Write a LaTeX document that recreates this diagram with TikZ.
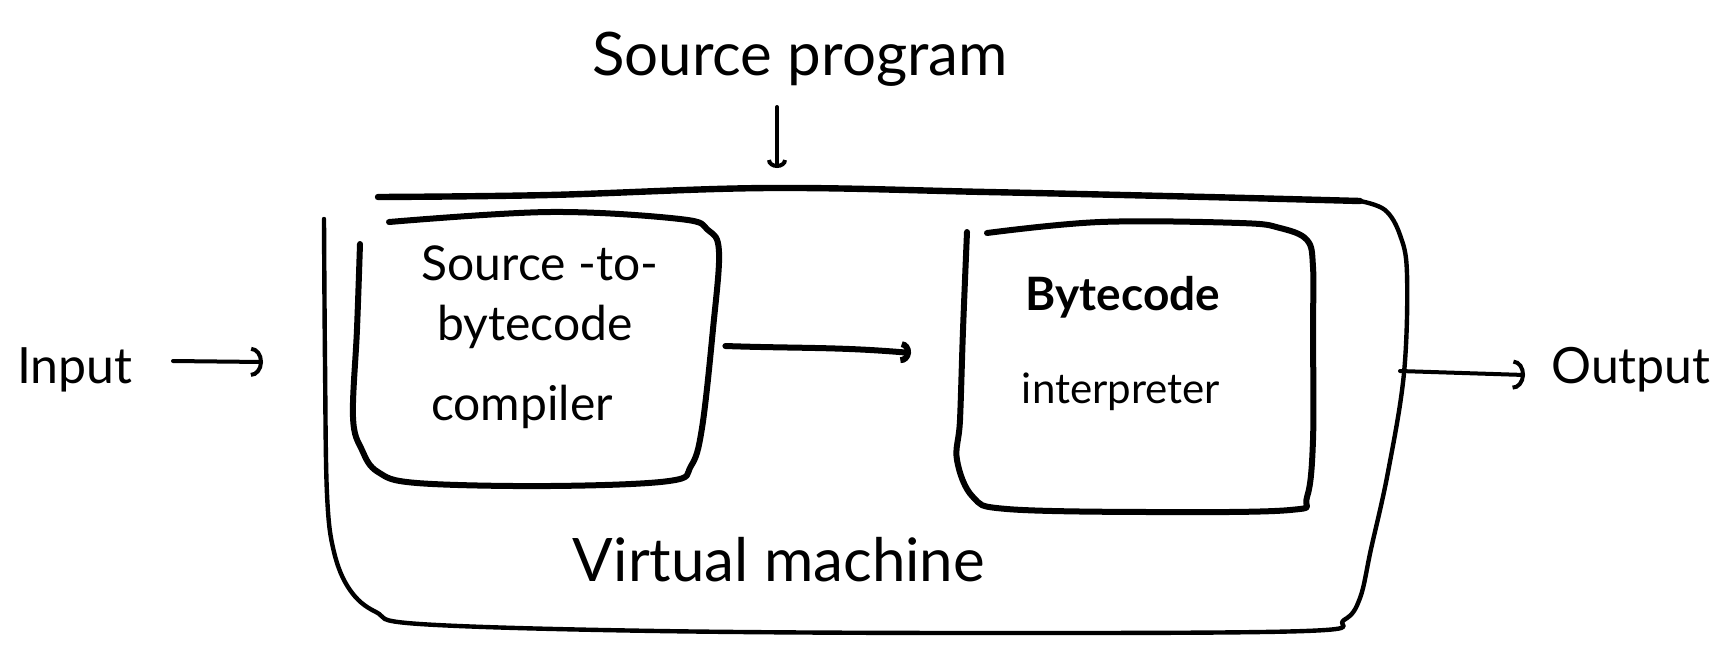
\documentclass[tikz,border=0pt]{standalone}
\usepackage{fontspec}
\setmainfont{Lato}
\usetikzlibrary{arrows.meta}
\begin{document}
\begin{tikzpicture}[x=0.5pt,y=-0.5pt,
  frame/.style={line width=2.2pt, line cap=round, line join=round},
  boxline/.style={line width=3pt, line cap=round, line join=round},
  conn/.style={line width=2pt, line cap=round,
    -{Arc Barb[length=6pt,width=15pt,line width=2pt]}},
  area/.style={draw=none, inner sep=0pt},
  lbl/.style={inner sep=0pt, anchor=base}]
\useasboundingbox (0,0) rectangle (1720,645);

% invisible extents of the three boxes (used for connectors)
\node[area, minimum width=546pt, minimum height=218pt] (vm) at (864,415) {};
\node[area, minimum width=182pt, minimum height=135pt] (compiler) at (537,355) {};
\node[area, minimum width=176pt, minimum height=145pt] (interp) at (1136,367) {};

% virtual machine outline
\draw[frame] plot[smooth, tension=0.6] coordinates {(324,219) (325,362) (327,494)
  (334,552) (350,590) (376,612) (420,624) (658,631) (987,633) (1305,631) (1344,620)
  (1360,598) (1371,549) (1388,472) (1404,373) (1407,274) (1400,235) (1385,210)
  (1360,201)};
\draw[frame, line width=3.2pt] plot[smooth, tension=0.6] coordinates {(1360,201)
  (1207,197) (987,192) (768,188) (549,195) (378,197)};

% compiler outline
\draw[boxline] plot[smooth, tension=0.6] coordinates {(360,244) (357,329) (353,417)
  (362,450) (378,472) (417,483) (549,486) (669,481) (691,466) (702,428) (713,329)
  (719,252) (708,230) (680,219) (549,212) (389,222)};

% interpreter outline
\draw[boxline] plot[smooth, tension=0.6] coordinates {(967,232) (963,330) (960,420)
  (957,460) (973,497) (1007,509) (1150,512) (1290,510) (1307,497) (1313,440)
  (1313,330) (1313,267) (1307,240) (1280,228) (1240,223) (1100,222) (987,233)};

% labels
\node[lbl, font=\fontsize{30}{36}\selectfont] (src) at (800,75) {Source program};
\node[lbl, font=\fontsize{24}{30}\selectfont] (c1) at (540,280) {Source -to-};
\node[lbl, font=\fontsize{24}{30}\selectfont] (c2) at (535,340) {bytecode};
\node[lbl, font=\fontsize{24}{30}\selectfont] (c3) at (522,420) {compiler};
\node[lbl, font=\fontsize{23}{30}\selectfont\bfseries] (i1) at (1123,310) {Bytecode};
\node[lbl, font=\fontsize{21}{30}\selectfont] (i2) at (1121,403) {interpreter};
\node[lbl, font=\fontsize{30}{36}\selectfont] (vmname) at (779,581) {Virtual machine};
\node[lbl, font=\fontsize{25}{30}\selectfont] (input) at (75,383) {Input};
\node[lbl, font=\fontsize{25}{30}\selectfont] (output) at (1631,383) {Output};

% connector end points
\coordinate (srcfoot) at (777,107);
\coordinate (srcin) at (777,168);
\coordinate (inA) at (173,361);
\coordinate (inB) at (263,362);
\coordinate (outA) at (1400,371);
\coordinate (outB) at (1525,375);
\coordinate (cmpout) at (compiler.east |- 0,346);
\coordinate (intin) at (911,353);

\draw[conn, -{Arc Barb[length=4pt,width=10pt,line width=2pt]}] (srcfoot) -- (srcin);
\draw[conn] (inA) -- (inB);
\draw[conn] (outA) -- (outB);
\draw[conn, line width=3pt, -{Arc Barb[length=5pt,width=11pt,line width=3pt]}]
  ([xshift=3pt]cmpout) to[out=-2,in=175] (intin);
\end{tikzpicture}
\end{document}
